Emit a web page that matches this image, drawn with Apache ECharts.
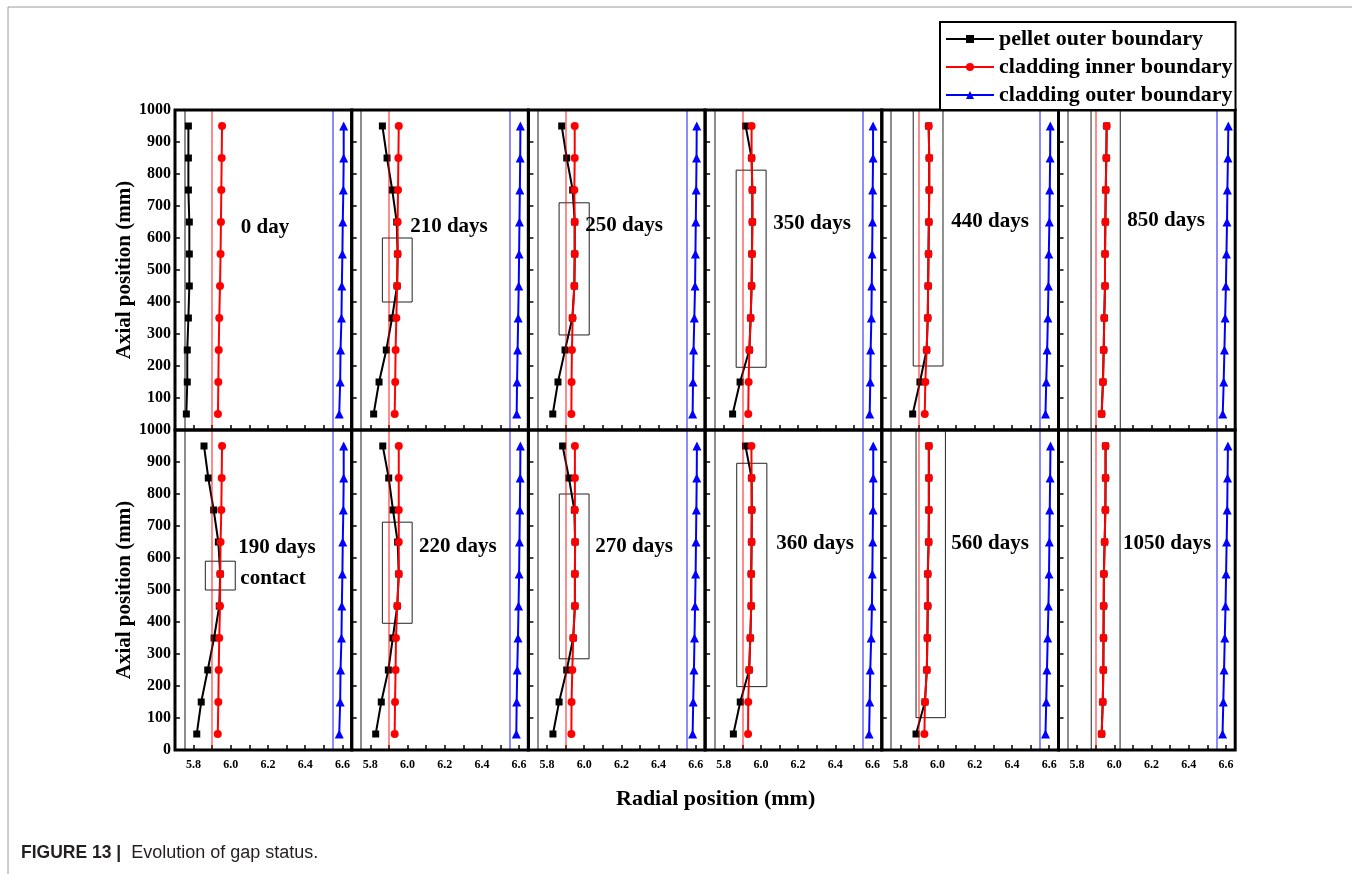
<!DOCTYPE html>
<html>
<head>
<meta charset="utf-8">
<script src="https://cdn.jsdelivr.net/npm/echarts@6/dist/echarts.min.js"></script>
<style>
  html, body { margin: 0; padding: 0; background: #fff; }
  #chart { width: 1352px; height: 874px; }
</style>
</head>
<body>
<div id="chart"></div>
<script>
// Axial heights (mm) where the radial boundaries are sampled
const axialPositions = [50, 150, 250, 350, 450, 550, 650, 750, 850, 950];

// Panel order: top row then bottom row, left to right
const panelTitles = ['0 day', '210 days', '250 days', '350 days', '440 days', '850 days',
                     '190 days', '220 days', '270 days', '360 days', '560 days', '1050 days'];

// Pellet outer boundary radius (mm) per panel, bottom to top
const pelletOuter = [
  [5.761, 5.766, 5.766, 5.772, 5.777, 5.777, 5.777, 5.772, 5.772, 5.772],
  [5.818, 5.847, 5.886, 5.917, 5.944, 5.947, 5.942, 5.918, 5.890, 5.865],
  [5.831, 5.859, 5.897, 5.936, 5.947, 5.949, 5.949, 5.938, 5.906, 5.879],
  [5.848, 5.888, 5.938, 5.945, 5.950, 5.952, 5.954, 5.954, 5.950, 5.918],
  [5.866, 5.905, 5.941, 5.947, 5.949, 5.951, 5.953, 5.955, 5.955, 5.952],
  [5.932, 5.939, 5.943, 5.946, 5.950, 5.950, 5.952, 5.954, 5.957, 5.959],
  [5.817, 5.841, 5.876, 5.910, 5.938, 5.943, 5.933, 5.908, 5.879, 5.856],
  [5.829, 5.859, 5.897, 5.921, 5.945, 5.953, 5.947, 5.922, 5.899, 5.867],
  [5.832, 5.865, 5.906, 5.941, 5.950, 5.950, 5.951, 5.947, 5.918, 5.884],
  [5.852, 5.889, 5.937, 5.943, 5.948, 5.948, 5.950, 5.951, 5.950, 5.917],
  [5.884, 5.932, 5.942, 5.945, 5.947, 5.947, 5.952, 5.953, 5.953, 5.953],
  [5.932, 5.938, 5.941, 5.942, 5.943, 5.944, 5.948, 5.952, 5.953, 5.953]
];

// Cladding inner boundary radius (mm) per panel
const claddingInner = [
  [5.931, 5.933, 5.935, 5.938, 5.942, 5.945, 5.947, 5.949, 5.951, 5.953],
  [5.931, 5.934, 5.936, 5.940, 5.944, 5.947, 5.947, 5.949, 5.951, 5.953],
  [5.931, 5.932, 5.934, 5.938, 5.947, 5.949, 5.949, 5.947, 5.949, 5.949],
  [5.932, 5.934, 5.938, 5.945, 5.950, 5.952, 5.954, 5.954, 5.950, 5.950],
  [5.931, 5.934, 5.941, 5.947, 5.949, 5.951, 5.953, 5.955, 5.955, 5.952],
  [5.932, 5.939, 5.943, 5.946, 5.950, 5.950, 5.952, 5.954, 5.957, 5.959],
  [5.930, 5.933, 5.935, 5.938, 5.942, 5.943, 5.945, 5.949, 5.951, 5.953],
  [5.931, 5.933, 5.936, 5.938, 5.945, 5.953, 5.953, 5.953, 5.953, 5.953],
  [5.931, 5.932, 5.936, 5.941, 5.950, 5.950, 5.951, 5.950, 5.950, 5.950],
  [5.931, 5.932, 5.937, 5.943, 5.948, 5.948, 5.950, 5.951, 5.950, 5.949],
  [5.929, 5.932, 5.942, 5.945, 5.947, 5.947, 5.952, 5.953, 5.953, 5.953],
  [5.932, 5.938, 5.941, 5.942, 5.943, 5.944, 5.948, 5.952, 5.953, 5.953]
];

// Cladding outer boundary radius (mm) per panel
const claddingOuter = [
  [6.583, 6.588, 6.590, 6.595, 6.597, 6.600, 6.602, 6.605, 6.607, 6.607],
  [6.587, 6.589, 6.592, 6.595, 6.598, 6.600, 6.602, 6.604, 6.606, 6.607],
  [6.583, 6.585, 6.588, 6.592, 6.596, 6.598, 6.600, 6.602, 6.604, 6.605],
  [6.585, 6.588, 6.590, 6.594, 6.596, 6.598, 6.600, 6.601, 6.603, 6.603],
  [6.580, 6.584, 6.589, 6.593, 6.596, 6.598, 6.601, 6.603, 6.605, 6.606],
  [6.583, 6.588, 6.592, 6.596, 6.600, 6.603, 6.606, 6.608, 6.611, 6.613],
  [6.583, 6.588, 6.590, 6.595, 6.597, 6.600, 6.602, 6.605, 6.607, 6.607],
  [6.585, 6.587, 6.590, 6.594, 6.597, 6.600, 6.602, 6.604, 6.606, 6.607],
  [6.583, 6.586, 6.590, 6.593, 6.596, 6.599, 6.601, 6.603, 6.605, 6.606],
  [6.582, 6.585, 6.588, 6.593, 6.597, 6.599, 6.601, 6.603, 6.604, 6.604],
  [6.580, 6.584, 6.588, 6.592, 6.596, 6.599, 6.601, 6.603, 6.605, 6.607],
  [6.582, 6.586, 6.590, 6.594, 6.598, 6.601, 6.604, 6.607, 6.609, 6.611]
];

// Contact zone outlines per panel: [r1, z1, r2, z2]
const contactBoxes = [
  null,
  [5.865, 400, 6.025, 600],
  [5.865, 297, 6.027, 710],
  [5.867, 196, 6.028, 812],
  [5.869, 200, 6.029, 1000],
  [5.875, 0, 6.032, 1000],
  [5.863, 500, 6.024, 590],
  [5.865, 396, 6.025, 712],
  [5.866, 285, 6.026, 800],
  [5.870, 198, 6.032, 896],
  [5.884, 101, 6.042, 1000],
  [5.876, 0, 6.031, 1000]
];

// Where each panel's time label sits, in (radius, height)
const titleSpots = [
  [6.184, 634], [6.223, 637], [6.214, 640], [6.275, 644], [6.282, 650], [6.278, 653],
  [6.248, 634], [6.271, 637], [6.268, 637], [6.291, 644], [6.282, 644], [6.284, 644]
];
const contactNote = { panel: 6, text: 'contact', spot: [6.227, 537] };

// As-fabricated radii (mm) drawn as faint vertical guides
const nominalPelletRadius = 5.755;
const nominalInnerRadius = 5.90;
const nominalOuterRadius = 6.55;

const seriesNames = ['pellet outer boundary', 'cladding inner boundary', 'cladding outer boundary'];

// ---- layout ----
const COLS = 6, ROWS = 2;
const PLOT_LEFT = 175, PLOT_TOP = 110, PANEL_W = 176.7, PANEL_H = 320;
const SERIF = 'Liberation Serif';

function radialLabel(v) {
  const t = Math.round(v * 100);
  if (t % 20 !== 0 || t > 660) return '';
  return v.toFixed(1);
}

const grids = [], xAxes = [], yAxes = [], series = [];

for (let i = 0; i < COLS * ROWS; i++) {
  const col = i % COLS, row = Math.floor(i / COLS);
  grids.push({
    left: PLOT_LEFT + col * PANEL_W,
    top: PLOT_TOP + row * PANEL_H,
    width: PANEL_W,
    height: PANEL_H,
    show: true,
    borderColor: '#000',
    borderWidth: 3,
    backgroundColor: 'transparent',
    z: 10
  });
  xAxes.push({
    type: 'value', gridIndex: i, min: 5.7, max: 6.65, interval: 0.1,
    axisLine: { show: false },
    axisTick: { show: true, inside: true, length: 5, lineStyle: { color: '#000', width: 1.5 } },
    axisLabel: {
      show: row === 1, formatter: radialLabel, margin: 9,
      fontFamily: SERIF, fontWeight: 'bold', fontSize: 12, color: '#000'
    },
    splitLine: { show: false }
  });
  yAxes.push({
    type: 'value', gridIndex: i, min: 0, max: 1000, interval: 100,
    axisLine: { show: false },
    axisTick: { show: true, inside: true, length: 5, lineStyle: { color: '#000', width: 1.5 } },
    axisLabel: {
      show: col === 0, showMinLabel: row === 1, margin: 4,
      formatter: v => String(v),
      fontFamily: SERIF, fontWeight: 'bold', fontSize: 16, color: '#000'
    },
    splitLine: { show: false },
    name: col === 0 ? 'Axial position (mm)' : '',
    nameLocation: 'middle',
    nameGap: 38,
    nameTextStyle: { fontFamily: SERIF, fontWeight: 'bold', fontSize: 21, color: '#000' }
  });

  const pts = arr => axialPositions.map((z, k) => [arr[i][k], z]);

  series.push({
    name: seriesNames[0], type: 'line', xAxisIndex: i, yAxisIndex: i, z: 2,
    data: pts(pelletOuter), symbol: 'rect', symbolSize: 7,
    itemStyle: { color: '#000' }, lineStyle: { color: '#000', width: 2 },
    emphasis: { disabled: true }, silent: true
  });

  // faint as-fabricated guides and contact zone outlines
  const box = contactBoxes[i];
  series.push({
    name: 'guides', type: 'line', xAxisIndex: i, yAxisIndex: i, z: 3,
    data: [], silent: true,
    markLine: {
      silent: true, symbol: ['none', 'none'], label: { show: false },
      emphasis: { disabled: true },
      data: [
        { xAxis: nominalPelletRadius, lineStyle: { color: 'rgba(0,0,0,0.45)', width: 2, type: 'solid' } },
        { xAxis: nominalInnerRadius, lineStyle: { color: 'rgba(255,0,0,0.45)', width: 2, type: 'solid' } },
        { xAxis: nominalOuterRadius, lineStyle: { color: 'rgba(0,0,255,0.45)', width: 2, type: 'solid' } }
      ]
    },
    markArea: box ? {
      silent: true,
      itemStyle: { color: 'transparent', borderColor: '#222', borderWidth: 1 },
      emphasis: { disabled: true },
      data: [[{ coord: [box[0], box[1]] }, { coord: [box[2], box[3]] }]]
    } : undefined
  });

  series.push({
    name: seriesNames[1], type: 'line', xAxisIndex: i, yAxisIndex: i, z: 4,
    data: pts(claddingInner), symbol: 'circle', symbolSize: 8,
    itemStyle: { color: '#ff0000' }, lineStyle: { color: '#ff0000', width: 2 },
    emphasis: { disabled: true }, silent: true
  });
  series.push({
    name: seriesNames[2], type: 'line', xAxisIndex: i, yAxisIndex: i, z: 4,
    data: pts(claddingOuter), symbol: 'triangle', symbolSize: 9,
    itemStyle: { color: '#0000ff' }, lineStyle: { color: '#0000ff', width: 2 },
    emphasis: { disabled: true }, silent: true
  });

  const labels = [{ value: titleSpots[i], name: panelTitles[i] }];
  if (contactNote.panel === i) labels.push({ value: contactNote.spot, name: contactNote.text });
  series.push({
    name: 'panel labels', type: 'scatter', xAxisIndex: i, yAxisIndex: i, z: 6,
    symbolSize: 0, silent: true, data: labels,
    itemStyle: { opacity: 1 },
    label: {
      show: true, position: 'inside', formatter: '{b}',
      fontFamily: SERIF, fontWeight: 'bold', fontSize: 21, color: '#000'
    },
    emphasis: { disabled: true }
  });
}

const chart = echarts.init(document.getElementById('chart'), null, { renderer: 'canvas' });
chart.setOption({
  animation: false,
  backgroundColor: '#fff',
  grid: grids,
  xAxis: xAxes,
  yAxis: yAxes,
  legend: {
    data: seriesNames,
    orient: 'vertical',
    left: 940, top: 22,
    itemWidth: 48, itemHeight: 10, itemGap: 6,
    padding: [6, 3, 4, 5],
    borderColor: '#000', borderWidth: 2, backgroundColor: '#fff',
    selectedMode: false,
    textStyle: { fontFamily: SERIF, fontWeight: 'bold', fontSize: 22, color: '#000' },
    z: 20
  },
  series: series,
  graphic: [
    { type: 'line', shape: { x1: 8, y1: 7, x2: 1352, y2: 7 }, style: { stroke: '#9a9a9a', lineWidth: 1 }, silent: true },
    { type: 'line', shape: { x1: 8, y1: 7, x2: 8, y2: 874 }, style: { stroke: '#9a9a9a', lineWidth: 1 }, silent: true },
    {
      type: 'text', left: 616, top: 788, silent: true,
      style: { text: 'Radial position (mm)', font: 'bold 22px "Liberation Serif"', fill: '#000' }
    },
    {
      type: 'text', left: 21, top: 844, silent: true,
      style: {
        text: '{b|FIGURE 13 |}{n|  Evolution of gap status.}',
        rich: {
          b: { fontFamily: 'Liberation Sans', fontWeight: 'bold', fontSize: 17.5, fill: '#231f20' },
          n: { fontFamily: 'Liberation Sans', fontSize: 18, fill: '#231f20' }
        }
      }
    }
  ]
});
</script>
</body>
</html>
